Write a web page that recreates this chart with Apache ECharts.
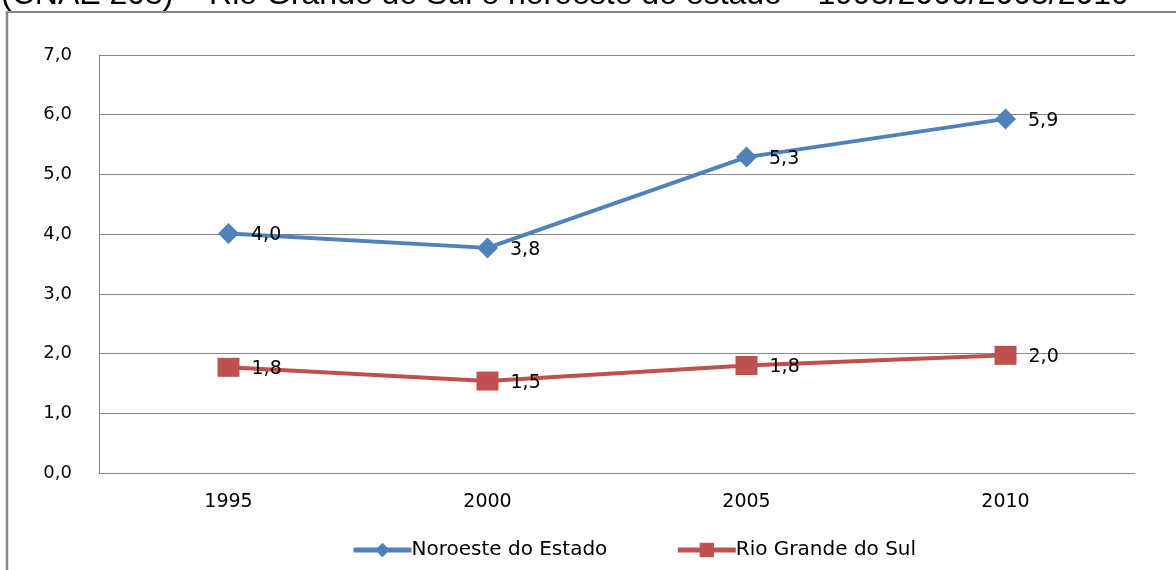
<!DOCTYPE html>
<html><head><meta charset="utf-8">
<script src="https://cdn.jsdelivr.net/npm/echarts@6/dist/echarts.min.js"></script>
<style>html,body{margin:0;padding:0;background:#fff;}#c{width:1176px;height:570px;}</style>
</head><body><div id="c"></div>
<script>
const categories = ['1995', '2000', '2005', '2010'];
const noroeste = [4.01, 3.77, 5.29, 5.93];
const rioGrande = [1.77, 1.54, 1.80, 1.97];
const seriesNames = ['Noroeste do Estado', 'Rio Grande do Sul'];
const titleText = '(CNAE 203) – Rio Grande do Sul e noroeste do estado – 1995/2000/2005/2010';

const fmt = v => v.toFixed(1).replace('.', ',');
const FONT = '"DejaVu Sans", Verdana, sans-serif';
const chart = echarts.init(document.getElementById('c'));
chart.setOption({
  animation: false,
  graphic: [
    {type: 'text', left: 1, top: -21, style: {text: titleText, font: '32px "Liberation Sans", Arial, sans-serif', fill: '#000'}},
    {type: 'line', shape: {x1: 7, y1: 12, x2: 1176, y2: 12}, style: {stroke: '#868686', lineWidth: 2}},
    {type: 'line', shape: {x1: 7, y1: 11, x2: 7, y2: 570}, style: {stroke: '#868686', lineWidth: 2.5}}
  ],
  grid: {left: 99, right: 41, top: 55, bottom: 97, containLabel: false},
  legend: {
    bottom: 5, left: 346, itemGap: 68, itemWidth: 58, itemHeight: 18,
    lineStyle: {width: 5},
    textStyle: {fontFamily: FONT, fontSize: 20, color: '#000', padding: [0, 0, 0, -5]},
    data: seriesNames
  },
  xAxis: {
    type: 'category', data: categories, boundaryGap: true,
    axisLine: {lineStyle: {color: '#868686', width: 1}},
    axisTick: {show: false},
    axisLabel: {fontFamily: FONT, fontSize: 19, color: '#000', margin: 20}
  },
  yAxis: {
    type: 'value', min: 0, max: 7, interval: 1,
    axisLine: {show: true, lineStyle: {color: '#868686', width: 1}},
    axisTick: {show: false},
    splitLine: {lineStyle: {color: '#868686', width: 1}},
    axisLabel: {fontFamily: FONT, fontSize: 18, color: '#000', margin: 27, formatter: v => fmt(v)}
  },
  series: [
    {
      name: seriesNames[0], type: 'line', data: noroeste,
      symbol: 'diamond', symbolSize: 21,
      lineStyle: {color: '#4F81BD', width: 4}, itemStyle: {color: '#4F81BD'},
      label: {show: true, position: 'right', distance: 12, formatter: p => fmt(p.value),
        fontFamily: FONT, fontSize: 19, color: '#000', offset: [0, 2]}
    },
    {
      name: seriesNames[1], type: 'line', data: rioGrande,
      symbol: 'rect', symbolSize: [22, 19],
      lineStyle: {color: '#C0504D', width: 4}, itemStyle: {color: '#C0504D'},
      label: {show: true, position: 'right', distance: 12, formatter: p => fmt(p.value),
        fontFamily: FONT, fontSize: 19, color: '#000', offset: [0, 2]}
    }
  ]
});
</script></body></html>
